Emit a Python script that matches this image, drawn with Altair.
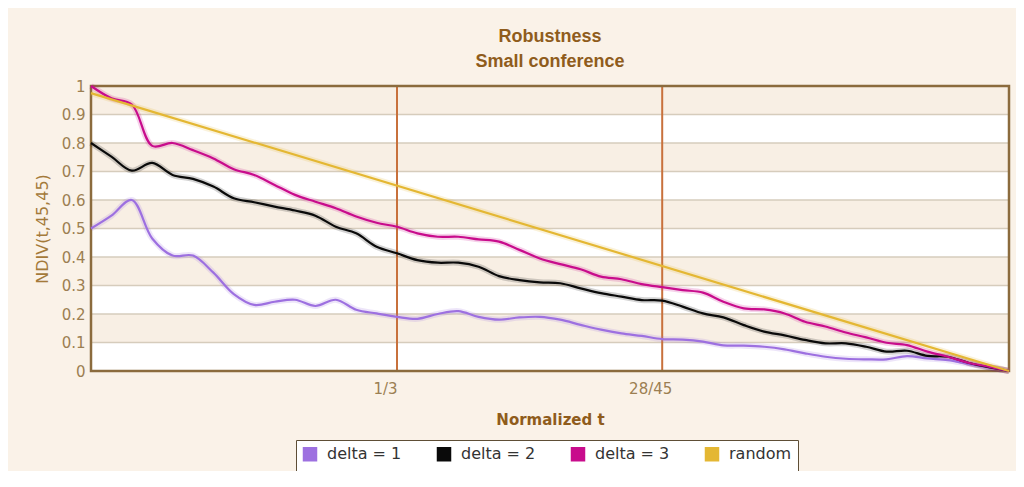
import altair as alt
import pandas as pd

# ---- data ----
t_steps = list(range(46))  # t = 0..45, plotted as t/45
delta1 = [0.50, 0.545, 0.60, 0.465, 0.405, 0.405, 0.345, 0.27, 0.232, 0.243,
          0.25, 0.228, 0.25, 0.215, 0.202, 0.19, 0.183, 0.20, 0.21, 0.19,
          0.18, 0.188, 0.19, 0.18, 0.162, 0.145, 0.132, 0.123, 0.112, 0.11,
          0.103, 0.09, 0.089, 0.085, 0.076, 0.062, 0.05, 0.043, 0.041, 0.041,
          0.052, 0.044, 0.038, 0.025, 0.013, 0.0]
delta2 = [0.80, 0.752, 0.703, 0.73, 0.688, 0.674, 0.647, 0.606, 0.592, 0.577,
          0.563, 0.545, 0.506, 0.483, 0.436, 0.413, 0.389, 0.38, 0.38, 0.366,
          0.333, 0.319, 0.311, 0.308, 0.29, 0.273, 0.261, 0.249, 0.247, 0.226,
          0.202, 0.188, 0.161, 0.138, 0.125, 0.109, 0.097, 0.097, 0.085, 0.068,
          0.071, 0.053, 0.05, 0.029, 0.013, 0.0]
delta3 = [1.0, 0.957, 0.935, 0.79, 0.80, 0.775, 0.746, 0.708, 0.688, 0.653,
          0.618, 0.594, 0.571, 0.542, 0.52, 0.506, 0.483, 0.471, 0.471, 0.462,
          0.454, 0.425, 0.395, 0.375, 0.357, 0.331, 0.322, 0.305, 0.294, 0.284,
          0.275, 0.243, 0.22, 0.216, 0.202, 0.173, 0.156, 0.135, 0.118, 0.099,
          0.091, 0.068, 0.05, 0.029, 0.015, 0.0]
random_t = [0, 45]
random_v = [0.975, 0.0]

series_names = ["delta = 1", "delta = 2", "delta = 3", "random"]
series_colors = ["#9d70e0", "#0a0a0a", "#c80c8c", "#e4b733"]

y_ticks = [0, 0.1, 0.2, 0.3, 0.4, 0.5, 0.6, 0.7, 0.8, 0.9, 1]
x_marks = [1 / 3, 28 / 45]
x_mark_labels = ["1/3", "28/45"]
band_lo = [0.1, 0.3, 0.5, 0.7, 0.9]
band_hi = [0.2, 0.4, 0.6, 0.8, 1.0]

# ---- tables ----
rows = []
for name, ts, vs in [("delta = 1", t_steps, delta1), ("delta = 2", t_steps, delta2),
                     ("delta = 3", t_steps, delta3), ("random", random_t, random_v)]:
    for t, v in zip(ts, vs):
        rows.append({"x": t / 45, "y": v, "series": name,
                     "shade": series_colors[series_names.index(name)],
                     "order": series_names.index(name)})
lines_df = pd.DataFrame(rows)

bands_df = pd.DataFrame({"x": [0] * len(band_lo), "x2": [1] * len(band_lo),
                         "y": band_lo, "y2": band_hi})
grid_df = pd.DataFrame({"y": y_ticks[1:-1], "x": 0, "x2": 1})
vlines_df = pd.DataFrame({"x": x_marks, "y": 0, "y2": 1})
frame_df = pd.DataFrame({"x": [0], "x2": [1], "y": [0], "y2": [1]})

label_expr = " : ".join(
    f"abs(datum.value - {v}) < 1e-6 ? '{l}'" for v, l in zip(x_marks, x_mark_labels)
) + " : ''"

tick_color = "#9c7f52"
xscale = alt.Scale(domain=[0, 1], nice=False, zero=False)
yscale = alt.Scale(domain=[0, 1], nice=False)
xaxis = alt.Axis(values=x_marks, labelExpr=label_expr, grid=False, ticks=False,
                 domain=False, labelFont="DejaVu Sans", labelFontSize=15,
                 labelColor=tick_color, labelPadding=10, labelOffset=-12,
                 title="Normalized t", titleFont="DejaVu Sans", titleFontSize=15,
                 titleFontWeight="bold", titleColor="#8f5c1c", titlePadding=16,
                 zindex=1)
yaxis = alt.Axis(values=y_ticks, format=".1~f", grid=False, ticks=False,
                 domain=False, labelFont="DejaVu Sans", labelFontSize=15,
                 labelColor=tick_color, labelPadding=6,
                 title="NDIV(t,45,45)", titleFont="DejaVu Sans", titleFontSize=16,
                 titleFontWeight="normal", titleColor="#a47a3a", titlePadding=11,
                 zindex=1)


def X(f="x"):
    return alt.X(f"{f}:Q", scale=xscale, axis=xaxis)


def Y(f="y"):
    return alt.Y(f"{f}:Q", scale=yscale, axis=yaxis)


bands = alt.Chart(bands_df).mark_rect(fill="#f8efe4").encode(
    x=X(), x2="x2:Q", y=Y(), y2="y2:Q")
grid = alt.Chart(grid_df).mark_rule(color="#d6ccbc", strokeWidth=1.5).encode(
    x=X(), x2="x2:Q", y=Y())
vlines = alt.Chart(vlines_df).mark_rule(color="#c8713c", strokeWidth=2).encode(
    x=X(), y=Y(), y2="y2:Q")
frame = alt.Chart(frame_df).mark_rect(fillOpacity=0, stroke="#8b6b3d",
                                      strokeWidth=2.5).encode(
    x=X(), x2="x2:Q", y=Y(), y2="y2:Q")

shadow = alt.Chart(lines_df).mark_line(interpolate="catmull-rom", strokeWidth=6,
                                       opacity=0.18).encode(
    x=X(), y=Y(), detail="series:N",
    stroke=alt.Stroke("shade:N", scale=None), order="order:Q")

lines = alt.Chart(lines_df).mark_line(interpolate="catmull-rom", strokeWidth=2.2).encode(
    x=X(), y=Y(),
    color=alt.Color("series:N",
                    scale=alt.Scale(domain=series_names, range=series_colors),
                    sort=series_names,
                    legend=alt.Legend(orient="none", legendX=205, legendY=354,
                                      direction="horizontal", columns=4, title=None,
                                      symbolType="square", symbolSize=49,
                                      symbolStrokeWidth=7.5, labelFont="DejaVu Sans",
                                      labelFontSize=16, labelColor="#333333",
                                      labelOffset=9, columnPadding=23, padding=6,
                                      fillColor="white", strokeColor="#5e4e36",
                                      cornerRadius=0)),
    order="order:Q")

chart = alt.layer(bands, grid, vlines, frame, shadow, lines).properties(
    width=918, height=285,
    autosize="none",
    padding={"left": 83, "top": 78, "right": 7, "bottom": 100},
    background="#faf2e8",
    title=alt.TitleParams(["Robustness", "Small conference"], font="Liberation Sans",
                          fontSize=18, fontWeight="bold", color="#8f5c1c",
                          lineHeight=25, anchor="middle", offset=3),
).configure_view(stroke=None, fill="white")

chart.save("out.html", embed_options={"renderer": "svg", "actions": False})
